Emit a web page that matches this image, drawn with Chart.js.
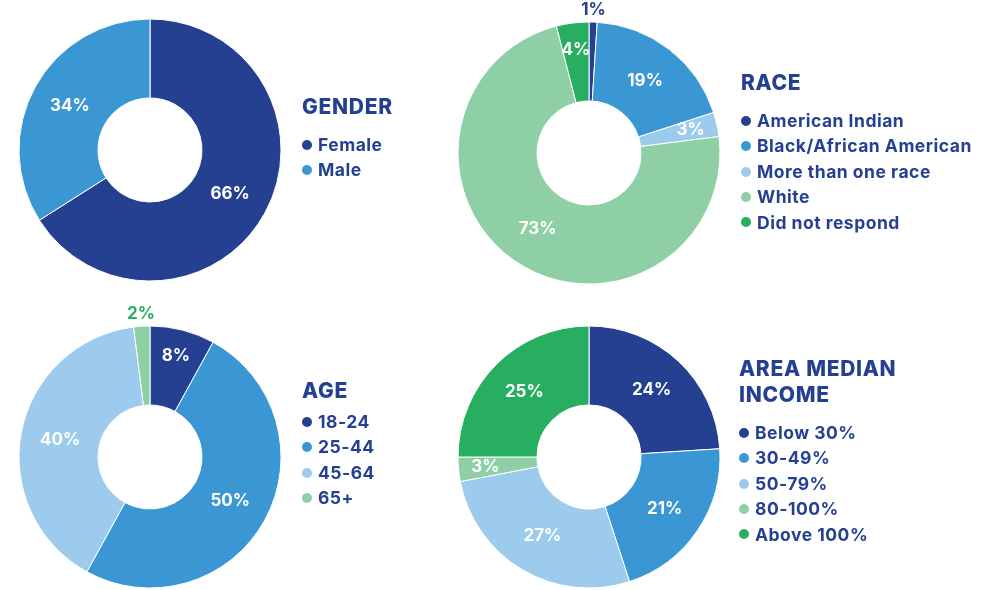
<!DOCTYPE html>
<html>
<head>
<meta charset="utf-8">
<script src="https://cdn.jsdelivr.net/npm/chart.js@4/dist/chart.umd.min.js"></script>
<style>
  html, body { margin: 0; padding: 0; background: #fff; }
  body { width: 997px; height: 590px; position: relative; overflow: hidden; font-family: Inter, "Noto Sans", sans-serif; color: #253f91; }
  canvas.pie { position: absolute; }
  .legend { position: absolute; }
  .legend .title { font-size: 21px; font-weight: 800; line-height: 26px; letter-spacing: 0.7px; }
  .legend .items { margin-top: 12px; }
  .legend .item { display: flex; align-items: center; font-size: 17.5px; font-weight: 700; line-height: 25.4px; letter-spacing: 0.5px; white-space: nowrap; }
  .legend .dot { width: 10px; height: 10px; border-radius: 50%; margin-right: 6px; flex: none; }
</style>
</head>
<body>
<canvas class="pie" id="genderChart" width="320" height="320" style="left:-10px;top:-10px"></canvas>
<canvas class="pie" id="raceChart" width="320" height="320" style="left:429px;top:-7px"></canvas>
<canvas class="pie" id="ageChart" width="320" height="320" style="left:-10px;top:297px"></canvas>
<canvas class="pie" id="incomeChart" width="320" height="320" style="left:429px;top:297px"></canvas>

<div class="legend" id="genderLegend" style="left:302px;top:94px"></div>
<div class="legend" id="raceLegend" style="left:741px;top:70px"></div>
<div class="legend" id="ageLegend" style="left:302px;top:378px"></div>
<div class="legend" id="incomeLegend" style="left:739px;top:356px"></div>

<script>
// data
const genderLabels = ['Female', 'Male'];
const genderValues = [66, 34];

const raceLabels = ['American Indian', 'Black/African American', 'More than one race', 'White', 'Did not respond'];
const raceValues = [1, 19, 3, 73, 4];

const ageLabels = ['18-24', '25-44', '45-64', '65+'];
const ageValues = [8, 50, 40, 2];

const incomeLabels = ['Below 30%', '30-49%', '50-79%', '80-100%', 'Above 100%'];
const incomeValues = [24, 21, 27, 3, 25];

// colours
const DARK = '#253f91';
const MID = '#3a97d3';
const LIGHT = '#9ccbee';
const PALE_GREEN = '#8fcfa5';
const GREEN = '#27ae60';

// percent labels on the slices
const sliceLabels = {
    id: 'sliceLabels',
    afterDatasetsDraw(chart, args, opts) {
        const ctx = chart.ctx;
        const data = chart.data.datasets[0].data;
        ctx.save();
        ctx.font = '700 17px Inter, "Noto Sans", sans-serif';
        ctx.textAlign = 'center';
        ctx.textBaseline = 'middle';
        chart.getDatasetMeta(0).data.forEach((arc, i) => {
            const v = data[i];
            const p = arc.getProps(['x', 'y', 'startAngle', 'endAngle', 'innerRadius', 'outerRadius'], true);
            const mid = (p.startAngle + p.endAngle) / 2;
            let r, color = '#fff';
            if (v <= 2) {
                // tiny slices get their label outside the ring
                r = p.outerRadius + 12;
                color = opts.outerColor;
            } else if (v < 10) {
                r = p.innerRadius + (p.outerRadius - p.innerRadius) * 0.66;
            } else {
                r = (p.innerRadius + p.outerRadius) / 2;
            }
            ctx.fillStyle = color;
            ctx.fillText(v + '%', p.x + Math.cos(mid) * r, p.y + Math.sin(mid) * r);
        });
        ctx.restore();
    }
};

function makeDoughnut(id, labels, values, colors, outerColor) {
    new Chart(document.getElementById(id), {
        type: 'doughnut',
        data: {
            labels: labels,
            datasets: [{
                data: values,
                backgroundColor: colors,
                borderColor: '#ffffff',
                borderWidth: 1
            }]
        },
        options: {
            responsive: false,
            animation: false,
            events: [],
            radius: 131,
            cutout: '39.7%',
            layout: { padding: 0 },
            plugins: {
                legend: { display: false },
                tooltip: { enabled: false },
                sliceLabels: { outerColor: outerColor || DARK }
            }
        },
        plugins: [sliceLabels]
    });
}

function makeLegend(id, title, labels, colors, gap) {
    const box = document.getElementById(id);
    const t = document.createElement('div');
    t.className = 'title';
    t.innerHTML = title;
    box.appendChild(t);
    const list = document.createElement('div');
    list.className = 'items';
    if (gap !== undefined) list.style.marginTop = gap + 'px';
    labels.forEach((lab, i) => {
        const row = document.createElement('div');
        row.className = 'item';
        const dot = document.createElement('span');
        dot.className = 'dot';
        dot.style.background = colors[i];
        row.appendChild(dot);
        row.appendChild(document.createTextNode(lab));
        list.appendChild(row);
    });
    box.appendChild(list);
}

const genderColors = [DARK, MID];
const raceColors = [DARK, MID, LIGHT, PALE_GREEN, GREEN];
const ageColors = [DARK, MID, LIGHT, PALE_GREEN];
const incomeColors = [DARK, MID, LIGHT, PALE_GREEN, GREEN];

makeDoughnut('genderChart', genderLabels, genderValues, genderColors);
makeDoughnut('raceChart', raceLabels, raceValues, raceColors, DARK);
makeDoughnut('ageChart', ageLabels, ageValues, ageColors, GREEN);
makeDoughnut('incomeChart', incomeLabels, incomeValues, incomeColors);

makeLegend('genderLegend', 'GENDER', genderLabels, genderColors);
makeLegend('raceLegend', 'RACE', raceLabels, raceColors);
makeLegend('ageLegend', 'AGE', ageLabels, ageColors, 5);
makeLegend('incomeLegend', 'AREA MEDIAN<br>INCOME', incomeLabels, incomeColors);
</script>
</body>
</html>
